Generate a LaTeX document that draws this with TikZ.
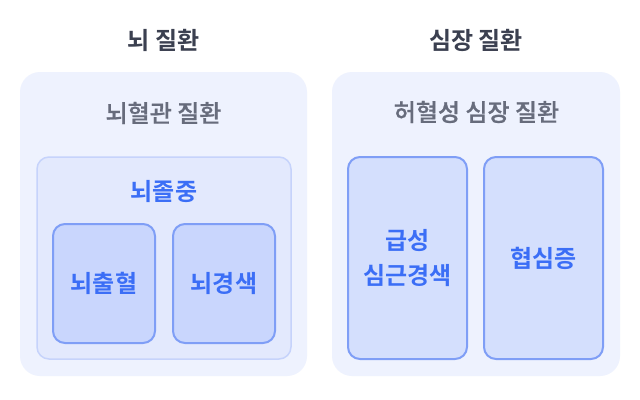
\documentclass[tikz,border=0pt]{standalone}
\usepackage{fontspec}
\newfontfamily\krbold{Noto Sans CJK KR Bold}
\newfontfamily\krmed[FakeBold=0.8]{Noto Sans CJK KR Medium}
\newdimen\px \px=0.75pt
\definecolor{titlec}{HTML}{3B4050}
\definecolor{subc}{HTML}{676C7C}
\definecolor{bluec}{HTML}{3B6EF6}
\definecolor{outerfill}{HTML}{EEF2FE}
\definecolor{midfill}{HTML}{E3E9FD}
\definecolor{midborder}{HTML}{C6D3FB}
\definecolor{smallfill}{HTML}{C9D6FD}
\definecolor{rightfill}{HTML}{D4DFFD}
\definecolor{boxborder}{HTML}{7F9EF6}
\tikzset{
  outerbox/.style={rectangle, rounded corners=20\px, fill=outerfill, draw=none, inner sep=0pt},
  midbox/.style={rectangle, rounded corners=12\px, fill=midfill, draw=midborder, line width=1.5\px, inner sep=0pt},
  leafbox/.style={rectangle, rounded corners=12\px, fill=smallfill, draw=boxborder, line width=2\px, inner sep=0pt, text=bluec, font=\krbold\fontsize{18}{26.5}\selectfont, align=center},
  rightbox/.style={leafbox, fill=rightfill},
  titletext/.style={text=titlec, font=\krbold\fontsize{18}{22}\selectfont, inner sep=0pt},
  subtext/.style={text=subc, font=\krmed\fontsize{18}{22}\selectfont, inner sep=0pt},
  bluetext/.style={text=bluec, font=\krbold\fontsize{18}{22}\selectfont, inner sep=0pt}
}
\begin{document}
\begin{tikzpicture}[x=0.75pt, y=-0.75pt]
\useasboundingbox[fill=white] (0,0) rectangle (640,400);
% left
\node[titletext] (t1) at (163.5,40) {뇌 질환};
\node[outerbox, minimum width=287\px, minimum height=304\px] (o1) at (163.5,224) {};
\node[subtext] (s1) at (163.5,113) {뇌혈관 질환};
\node[midbox, minimum width=254\px, minimum height=202\px] (m1) at (164,258) {};
\node[bluetext] (ml) at (164,192) {뇌졸중};
\node[leafbox, minimum width=102\px, minimum height=119\px] (a) at (104,283.5) {뇌출혈};
\node[leafbox, minimum width=102\px, minimum height=119\px] (b) at (224,283.5) {뇌경색};
% right
\node[titletext] (t2) at (476,40) {심장 질환};
\node[outerbox, minimum width=288\px, minimum height=304\px] (o2) at (476,224) {};
\node[subtext] (s2) at (476.5,112) {허혈성 심장 질환};
\node[rightbox, minimum width=119\px, minimum height=202\px] (c) at (407.5,258) {\raisebox{-1\px}{\parbox{100\px}{\centering 급성\\심근경색}}};
\node[rightbox, minimum width=119\px, minimum height=202\px] (d) at (543.5,258) {협심증};
\end{tikzpicture}
\end{document}
